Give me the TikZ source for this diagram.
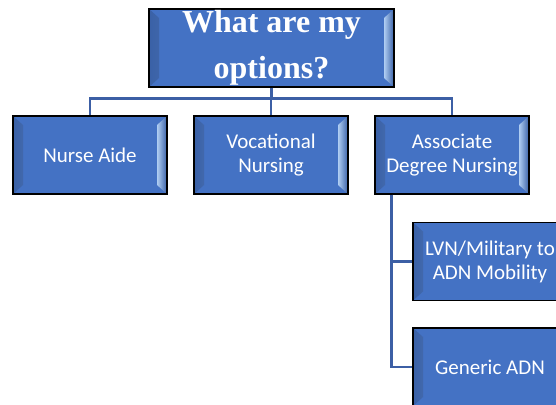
\documentclass[tikz,border=0pt]{standalone}
\usepackage{fontspec}
\setmainfont{Carlito}
\newfontfamily\titlefont{Liberation Serif}
\usetikzlibrary{positioning}
\definecolor{boxblue}{RGB}{68,114,196}
\definecolor{bevellight}{RGB}{175,205,242}
\definecolor{linkblue}{RGB}{60,95,165}

\begin{document}
\begin{tikzpicture}
  [
    x                = 1pt,
    y                = -1pt,
    optbox/.style    = {draw=black, line width=1.3pt, fill=boxblue, text=white,
                        minimum width=154pt, minimum height=78pt, inner sep=0pt,
                        align=center, font=\fontsize{21}{24}\selectfont,
                        path picture={
                          \shade[left color=boxblue!85!black, right color=bevellight]
                            (path picture bounding box.south west)
                            -- ([xshift=10pt,yshift=9pt]path picture bounding box.south west)
                            -- ([xshift=10pt,yshift=-9pt]path picture bounding box.north west)
                            -- (path picture bounding box.north west) -- cycle;
                          \shade[left color=bevellight, right color=boxblue!85!black]
                            (path picture bounding box.south east)
                            -- ([xshift=-10pt,yshift=9pt]path picture bounding box.south east)
                            -- ([xshift=-10pt,yshift=-9pt]path picture bounding box.north east)
                            -- (path picture bounding box.north east) -- cycle;
                        }},
    titlebox/.style  = {optbox, minimum width=245pt,
                        font=\titlefont\bfseries\fontsize{32}{46}\selectfont},
    link/.style      = {draw=linkblue, line width=2.4pt}
  ]
  \useasboundingbox (0,0) rectangle (556,404);
  \clip (0,0) rectangle (556,404);

  % top of the chart
  \node[titlebox] (options) at (271.5,48) {What are my\\options?};

  % first row
  \node[optbox] (aide) at (90,155)  {Nurse Aide};
  \node[optbox] (voc)  at (271,155) {Vocational\\Nursing};
  \node[optbox] (adn)  at (452,155) {Associate\\Degree Nursing};

  % ADN routes
  \node[optbox] (lvn)     at (490,261.5) {LVN/Military to\\ADN Mobility};
  \node[optbox] (generic) at (490,367)   {Generic ADN};

  \draw[link] (options.south) -- ++(0,11) coordinate (bar)
              -| (aide.north);
  \draw[link] (bar) -| (voc.north);
  \draw[link] (bar) -| (adn.north);

  \coordinate (trunk) at ([xshift=17pt]adn.south west);
  \draw[link] (trunk) |- (lvn.west);
  \draw[link] (trunk) |- (generic.west);
\end{tikzpicture}
\end{document}
